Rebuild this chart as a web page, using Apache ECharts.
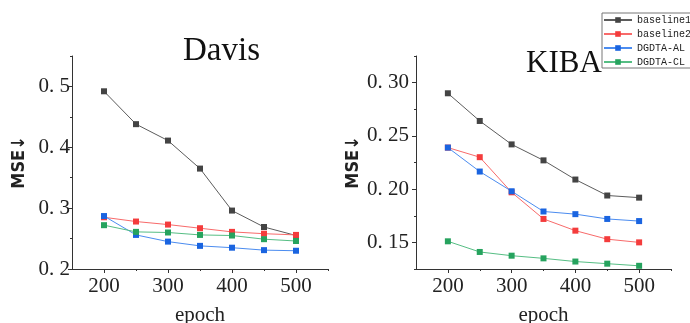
<!DOCTYPE html>
<html>
<head>
<meta charset="utf-8">
<script src="https://cdn.jsdelivr.net/npm/echarts@6/dist/echarts.min.js"></script>
<style>
  html, body { margin: 0; background: #fff; }
  #chart { width: 690px; height: 323px; }
</style>
</head>
<body>
<div id="chart"></div>
<script>
// data
const epochs = [200, 250, 300, 350, 400, 450, 500];
const seriesNames = ['baseline1', 'baseline2', 'DGDTA-AL', 'DGDTA-CL'];

const davisBaseline1 = [0.492, 0.438, 0.411, 0.365, 0.296, 0.269, 0.255];
const davisBaseline2 = [0.285, 0.278, 0.273, 0.267, 0.261, 0.258, 0.256];
const davisAL = [0.287, 0.256, 0.245, 0.238, 0.235, 0.231, 0.230];
const davisCL = [0.272, 0.261, 0.260, 0.256, 0.255, 0.249, 0.246];

const kibaBaseline1 = [0.290, 0.264, 0.242, 0.227, 0.209, 0.194, 0.192];
const kibaBaseline2 = [0.239, 0.230, 0.197, 0.172, 0.161, 0.153, 0.150];
const kibaAL = [0.239, 0.2165, 0.198, 0.179, 0.1765, 0.172, 0.170];
const kibaCL = [0.151, 0.141, 0.1375, 0.135, 0.132, 0.130, 0.128];

// tick labels
const xTicks = [200, 300, 400, 500];
const xMinorTicks = [250, 350, 450, 550];
const davisYTicks = [0.2, 0.3, 0.4, 0.5];
const davisYMinor = [0.25, 0.35, 0.45, 0.55];
const kibaYTicks = [0.15, 0.2, 0.25, 0.3];
const kibaYMinor = [0.125, 0.175, 0.225, 0.275, 0.325];

const markerColors = ['#444444', '#f43c3c', '#1a64e0', '#26a35e'];
const lineColors = ['#5c5c5c', '#f86a6a', '#4b8cf0', '#56be84'];

const serif = 'Liberation Serif';
const axisColor = '#333';

function pairs(vals) {
  return epochs.map((e, i) => [e, vals[i]]);
}

function mainX(grid) {
  return {
    gridIndex: grid, type: 'value', position: 'bottom', min: 150, max: 550,
    axisLine: { show: true, lineStyle: { color: axisColor, width: 1 } },
    axisTick: { show: true, customValues: xTicks, length: 4, lineStyle: { color: axisColor } },
    axisLabel: { customValues: xTicks, fontFamily: serif, fontSize: 21, color: '#222', margin: 7 },
    splitLine: { show: false },
    name: 'epoch', nameLocation: 'middle', nameGap: 36,
    nameTextStyle: { fontFamily: serif, fontSize: 21, color: '#222' }
  };
}
function minorX(grid) {
  return {
    gridIndex: grid, type: 'value', position: 'bottom', min: 150, max: 550,
    axisLine: { show: false },
    axisTick: { show: true, customValues: xMinorTicks, length: 2, lineStyle: { color: axisColor } },
    axisLabel: { show: false },
    splitLine: { show: false }
  };
}
function mainY(grid, min, max, ticks, digits, gap, margin) {
  return {
    gridIndex: grid, type: 'value', position: 'left', min: min, max: max,
    axisLine: { show: true, lineStyle: { color: axisColor, width: 1 } },
    axisTick: { show: true, customValues: ticks, length: 4, lineStyle: { color: axisColor } },
    axisLabel: {
      customValues: ticks, fontFamily: serif, fontSize: 21, color: '#222', margin: margin,
      formatter: v => v.toFixed(digits).replace('.', '. ')
    },
    splitLine: { show: false },
    name: 'MSE\u2193', nameLocation: 'middle', nameGap: gap, nameRotate: 90,
    nameTextStyle: { fontFamily: 'DejaVu Sans Condensed, Liberation Sans', fontWeight: 'bold', fontSize: 18, color: '#222' }
  };
}
function minorY(grid, min, max, ticks) {
  return {
    gridIndex: grid, type: 'value', position: 'left', min: min, max: max,
    axisLine: { show: false },
    axisTick: { show: true, customValues: ticks, length: 2, lineStyle: { color: axisColor } },
    axisLabel: { show: false },
    splitLine: { show: false }
  };
}

function lineSeries(name, idx, vals, axisIdx) {
  return {
    name: name, type: 'line', xAxisIndex: axisIdx, yAxisIndex: axisIdx,
    data: pairs(vals), symbol: 'rect', symbolSize: 6,
    itemStyle: { color: markerColors[idx] },
    lineStyle: { color: lineColors[idx], width: 1 }
  };
}

const chart = echarts.init(document.getElementById('chart'));
chart.setOption({
  animation: false,
  backgroundColor: '#fff',
  title: [
    { text: 'Davis', left: 178, top: 30, textStyle: { fontFamily: serif, fontSize: 33, fontWeight: 'normal', color: '#111' } },
    { text: 'KIBA', left: 521, top: 43, textStyle: { fontFamily: serif, fontSize: 31, fontWeight: 'normal', color: '#111' } }
  ],
  legend: {
    data: seriesNames, orient: 'vertical', left: 602, top: 13,
    padding: [1, 3, 0, 1], itemWidth: 28, itemHeight: 7, itemGap: 2,
    borderColor: '#777', borderWidth: 1,
    textStyle: { fontFamily: 'Liberation Mono', fontSize: 10, lineHeight: 12, color: '#222' }
  },
  grid: [
    { left: 72, top: 56, width: 256, height: 213, outerBoundsMode: 'none' },
    { left: 416, top: 56, width: 255, height: 213, outerBoundsMode: 'none' }
  ],
  xAxis: [mainX(0), minorX(0), mainX(1), minorX(1)],
  yAxis: [
    mainY(0, 0.2, 0.55, davisYTicks, 1, 44, 2),
    minorY(0, 0.2, 0.55, davisYMinor),
    mainY(1, 0.125, 0.325, kibaYTicks, 2, 54, 7),
    minorY(1, 0.125, 0.325, kibaYMinor)
  ],
  series: [
    lineSeries(seriesNames[0], 0, davisBaseline1, 0),
    lineSeries(seriesNames[1], 1, davisBaseline2, 0),
    lineSeries(seriesNames[2], 2, davisAL, 0),
    lineSeries(seriesNames[3], 3, davisCL, 0),
    lineSeries(seriesNames[0], 0, kibaBaseline1, 2),
    lineSeries(seriesNames[1], 1, kibaBaseline2, 2),
    lineSeries(seriesNames[2], 2, kibaAL, 2),
    lineSeries(seriesNames[3], 3, kibaCL, 2)
  ]
});
</script>
</body>
</html>
